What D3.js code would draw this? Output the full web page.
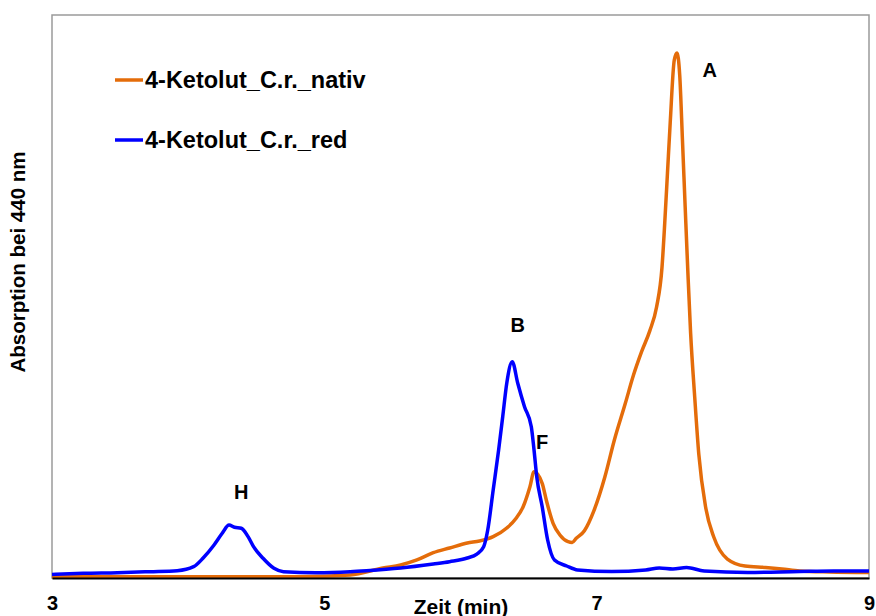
<!DOCTYPE html>
<html>
<head>
<meta charset="utf-8">
<script src="https://cdn.jsdelivr.net/npm/d3@7"></script>
<style>
  body { margin: 0; background: #fff; }
  text { font-family: "Liberation Sans", Arial, sans-serif; font-weight: bold; fill: #000; }
</style>
</head>
<body>
<div id="chart"></div>
<script>
// retention time (min) and absorbance (relative units)
var nativTime = [3.00, 3.72, 4.45, 4.82, 5.19, 5.43, 5.56, 5.68, 5.80, 5.92, 6.05, 6.14, 6.24, 6.34, 6.41,
  6.46, 6.51, 6.54, 6.60, 6.63, 6.68, 6.73, 6.79, 6.82, 6.85, 6.91, 6.98, 7.06, 7.13, 7.21, 7.27, 7.33,
  7.39, 7.44, 7.48, 7.50, 7.52, 7.54, 7.57, 7.59, 7.61, 7.63, 7.65, 7.67, 7.69, 7.72, 7.75, 7.80, 7.86,
  7.96, 8.09, 8.24, 8.36, 8.49, 8.71, 9.00];
var nativAbs = [0.23, 0.23, 0.23, 0.23, 0.53, 1.78, 2.31, 3.20, 4.49, 5.33, 6.22, 6.57, 7.34, 8.88, 10.66,
  12.66, 16.22, 18.88, 16.82, 13.85, 9.72, 7.64, 6.45, 6.32, 7.05, 8.40, 11.97, 17.94, 24.51, 30.98, 36.0, 40.2,
  43.9, 48.13, 55.24, 63.06, 71.94, 80.82, 92.0, 93.25, 89.3, 77.8, 65.9, 54.2, 43.5, 32.15, 22.0, 12.6, 7.28,
  3.37, 2.13, 1.87, 1.60, 1.24, 1.07, 0.98];

var redTime = [3.00, 3.23, 3.48, 3.72, 3.92, 4.04, 4.11, 4.19, 4.25, 4.30, 4.34, 4.39, 4.44, 4.48, 4.55,
  4.63, 4.70, 4.94, 5.19, 5.31, 5.56, 5.80, 5.92, 6.05, 6.12, 6.17, 6.20, 6.24, 6.28, 6.31, 6.34, 6.38,
  6.42, 6.47, 6.52, 6.54, 6.56, 6.60, 6.64, 6.69, 6.78, 6.86, 7.11, 7.36, 7.46, 7.56, 7.66, 7.79, 8.11,
  8.49, 8.74, 9.00];
var redAbs = [0.62, 0.83, 0.94, 1.12, 1.30, 2.01, 3.55, 5.86, 7.94, 9.41, 9.01, 8.83, 7.34, 5.56, 3.50,
  1.72, 1.12, 0.94, 1.12, 1.30, 1.78, 2.49, 2.90, 3.55, 4.26, 5.56, 8.53, 15.63, 22.74, 28.65, 34.64, 38.42,
  34.64, 30.43, 26.87, 22.74, 17.99, 12.66, 6.75, 3.20, 2.13, 1.42, 1.15, 1.42, 1.78, 1.60, 1.87, 1.24, 0.98,
  1.15, 1.24, 1.24];

var seriesNames = ["4-Ketolut_C.r._nativ", "4-Ketolut_C.r._red"];
var seriesColors = ["#E46C0A", "#0000FF"];
var xTicks = [3, 5, 7, 9];

// peak labels
var peakNames = ["A", "B", "F", "H"];
var peakTime = [7.83, 6.42, 6.60, 4.39];
var peakAbs = [90.2, 44.9, 24.2, 15.3];

var svgWidth = 876;
var svgHeight = 616;
var margin = { top: 15, right: 7, bottom: 38, left: 52 };
var chartWidth = svgWidth - margin.left - margin.right;
var chartHeight = svgHeight - margin.top - margin.bottom;

var svg = d3.select("#chart").append("svg")
  .attr("width", svgWidth)
  .attr("height", svgHeight);

var chartGroup = svg.append("g")
  .attr("transform", `translate(${margin.left}, ${margin.top})`);

var xScale = d3.scaleLinear().domain([3, 9]).range([0, chartWidth]);
var yScale = d3.scaleLinear().domain([0, 100]).range([chartHeight, 0]);

// plot frame
chartGroup.append("rect")
  .attr("width", chartWidth)
  .attr("height", chartHeight)
  .attr("fill", "none")
  .attr("stroke", "#9a9a9a")
  .attr("stroke-width", 1.5);

var line = d3.line()
  .x(d => xScale(d[0]))
  .y(d => yScale(d[1]))
  .curve(d3.curveMonotoneX);

var nativData = nativTime.map((t, i) => [t, nativAbs[i]]);
var redData = redTime.map((t, i) => [t, redAbs[i]]);

chartGroup.append("path")
  .datum(nativData)
  .attr("fill", "none")
  .attr("stroke", seriesColors[0])
  .attr("stroke-width", 3.5)
  .attr("d", line);

chartGroup.append("path")
  .datum(redData)
  .attr("fill", "none")
  .attr("stroke", seriesColors[1])
  .attr("stroke-width", 3.5)
  .attr("d", line);

// x axis (black baseline, no ticks)
var xAxis = d3.axisBottom(xScale).tickValues(xTicks).tickFormat(d3.format("d")).tickSize(0).tickPadding(18);
var xg = chartGroup.append("g")
  .attr("transform", `translate(0, ${chartHeight})`)
  .call(xAxis);
xg.select(".domain").attr("stroke", "#000").attr("stroke-width", 2);
xg.selectAll("text")
  .style("font-family", "'Liberation Sans', Arial, sans-serif")
  .style("font-weight", "bold")
  .style("font-size", "20px")
  .attr("fill", "#000");

// axis titles
chartGroup.append("text")
  .attr("x", 409)
  .attr("y", chartHeight + 36)
  .attr("text-anchor", "middle")
  .style("font-size", "21px")
  .text("Zeit (min)");

svg.append("text")
  .attr("transform", `translate(25, 262) rotate(-90)`)
  .attr("text-anchor", "middle")
  .style("font-size", "20.5px")
  .text("Absorption bei 440 nm");

// peak labels
chartGroup.selectAll(".peak")
  .data(peakNames)
  .enter()
  .append("text")
  .attr("class", "peak")
  .attr("x", (d, i) => xScale(peakTime[i]))
  .attr("y", (d, i) => yScale(peakAbs[i]) + 7)
  .attr("text-anchor", "middle")
  .style("font-size", "20px")
  .text(d => d);

// legend
var legend = svg.append("g");
seriesNames.forEach(function(name, i) {
  var y = 80 + i * 60;
  legend.append("line")
    .attr("x1", 115).attr("x2", 143)
    .attr("y1", y).attr("y2", y)
    .attr("stroke", seriesColors[i])
    .attr("stroke-width", 3.5);
  legend.append("text")
    .attr("x", 145)
    .attr("y", y + 8)
    .style("font-size", "23.5px")
    .text(name);
});
</script>
</body>
</html>
